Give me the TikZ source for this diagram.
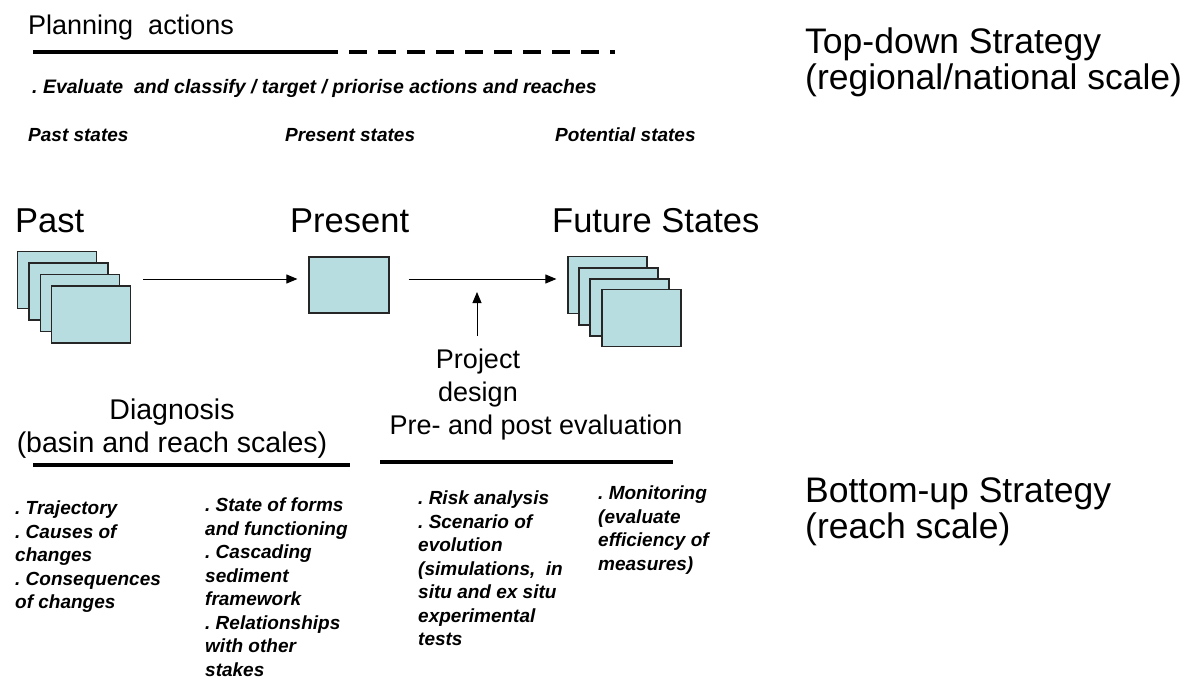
\documentclass[tikz,border=0pt]{standalone}
\usepackage{fontspec}
\setmainfont{Liberation Sans}
\usetikzlibrary{arrows.meta,positioning}
\definecolor{statefill}{RGB}{183,221,225}

\tikzset{
  statebox/.style={draw=black!85, line width=1.2pt, fill=statefill, minimum width=79pt, minimum height=57pt, inner sep=0pt},
  flow/.style={line width=0.9pt, -{Triangle[length=11pt,width=9pt]}},
  bigtitle/.style={font=\fontsize{34.5}{36}\selectfont, inner sep=0pt, align=left},
  midtitle/.style={font=\fontsize{27}{32.5}\selectfont, inner sep=0pt, align=center},
  note/.style={font=\fontsize{19}{23.5}\selectfont\bfseries\itshape, inner sep=0pt, align=left},
  bar/.style={line width=4pt},
}

\begin{document}
\begin{tikzpicture}[x=1pt, y=-1pt]
		%%%%% START %%%%%
		\useasboundingbox (0,0) rectangle (1191,680);
		
		% planning band
		\node[midtitle, anchor=base west] (plan) at (28,34) {Planning\ \ actions};
		\draw[bar] (33,52) -- (320,52);
		\draw[bar, dash pattern=on 18pt off 11pt] (320,52) -- (615,52);
		\node[note, font=\fontsize{19.5}{23.5}\selectfont\bfseries\itshape, anchor=base west] (evaluate) at (32,93) {.\ Evaluate\ \ and classify / target / priorise actions and reaches};
		
		\node[note, anchor=base west] (pastst) at (28,141) {Past states};
		\node[note, anchor=base west] (presst) at (285,141) {Present states};
		\node[note, anchor=base west] (potst) at (555,141) {Potential states};
		
		% strategies
		\node[bigtitle, font=\fontsize{35.5}{36}\selectfont, anchor=north west] (topdown) at (805,28) {Top-down Strategy\\(regional/national scale)};
		\node[bigtitle, font=\fontsize{35.5}{36}\selectfont, anchor=north west] (bottomup) at (805,478) {Bottom-up Strategy\\(reach scale)};
		
		% states
		\node[bigtitle, anchor=base west] (pastlbl) at (15,232) {Past};
		\node[bigtitle, anchor=base west] (preslbl) at (290,232) {Present};
		\node[bigtitle, anchor=base west] (futlbl) at (552,232) {Future States};
		
		\foreach \i/\x/\y in {1/57/280, 2/68.5/291.5, 3/80/303, 4/91/314.5}
			\node[statebox] (past\i) at (\x,\y) {};
		\node[statebox, minimum width=80pt, minimum height=56pt] (present) at (349,285) {};
		\foreach \i/\x/\y in {1/607.5/285, 2/618.5/296.5, 3/629.5/307.5, 4/641.5/318}
			\node[statebox] (future\i) at (\x,\y) {};
		
		\draw[flow] ([xshift=12pt]past4.east |- present.west) ++(0,-6) -- ([xshift=-11pt,yshift=6pt]present.west);
		\draw[flow] ([xshift=19pt,yshift=6pt]present.east) -- ([xshift=-11pt,yshift=6pt]future1.west);
		
		% project
		\node[midtitle, anchor=north] (project) at (478,349) {Project\\design};
		\node[midtitle, anchor=base] (prepost) at (536,434) {Pre- and post evaluation};
		\coordinate (tip) at (477,292);
		\draw[flow] ([yshift=13pt]project.north -| tip) -- (tip);
		
		% diagnosis
		\node[midtitle, font=\fontsize{28.5}{32.5}\selectfont, anchor=base] (diag) at (172,452) {Diagnosis\\(basin and reach scales)};
		\draw[bar] (33,465) -- (350,465);
		\draw[bar] (380,462) -- (673,462);
		
		% lists
		\node[note, anchor=north west] (col1) at (15,501) {.\ Trajectory\\.\ Causes of\\changes\\.\ Consequences\\of changes};
		\node[note, anchor=north west] (col2) at (205,498) {.\ State of forms\\and functioning\\.\ Cascading\\sediment\\framework\\.\ Relationships\\with other\\stakes};
		\node[note, anchor=north west] (col3) at (418,491) {.\ Risk analysis\\.\ Scenario of\\evolution\\(simulations,\ \ in\\situ and ex situ\\experimental\\tests};
		\node[note, anchor=north west] (col4) at (598,486) {.\ Monitoring\\(evaluate\\efficiency of\\measures)};
		
		%%%%% END %%%%%
\end{tikzpicture}
\end{document}
